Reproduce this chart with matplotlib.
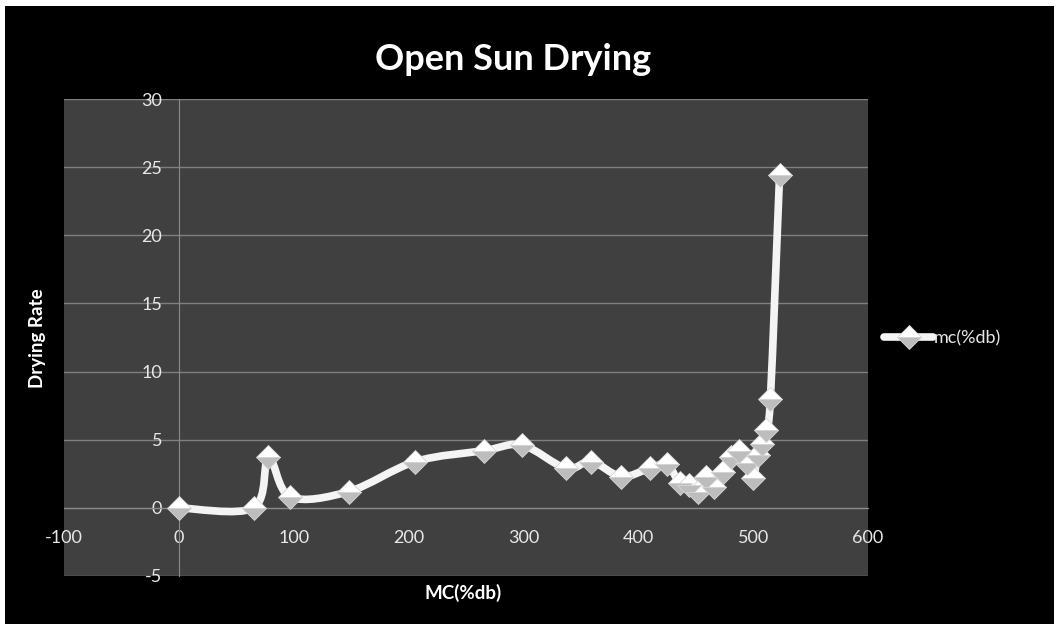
import numpy as np
import matplotlib.pyplot as plt
from matplotlib.path import Path
from matplotlib.patches import PathPatch, Rectangle
from matplotlib.lines import Line2D

# moisture content (%db) and drying rate readings
mc = [0, 65, 78, 97, 148, 206, 266, 299, 337, 359, 385, 410, 425, 436,
      444, 452, 459, 466, 474, 481, 488, 495, 500, 504, 508, 511, 515, 523]
rate = [0, 0, 3.7, 0.8, 1.2, 3.4, 4.2, 4.6, 2.9, 3.4, 2.3, 2.9, 3.2, 1.8,
        1.7, 1.2, 2.3, 1.5, 2.6, 3.7, 4.2, 3.3, 2.2, 3.9, 4.7, 5.7, 8.0, 24.4]

xticks = [-100, 0, 100, 200, 300, 400, 500, 600]
yticks = [-5, 0, 5, 10, 15, 20, 25, 30]

plt.rcParams['font.family'] = ['Lato', 'DejaVu Sans']
plt.rcParams['axes.unicode_minus'] = False

fig = plt.figure(figsize=(10.57, 6.29), dpi=100, facecolor='white')
fig.patches.append(Rectangle((5 / 1057, 5 / 629), 1 - 8 / 1057, 1 - 11 / 629,
                             transform=fig.transFigure, facecolor='black',
                             edgecolor='none', zorder=-10))

ax = fig.add_axes([64 / 1057, 1 - 576 / 629, 804 / 1057, 477 / 629])
ax.set_facecolor('#404040')
ax.set_xlim(-100, 600)
ax.set_ylim(-5, 30)
ax.set_xticks(xticks)
ax.set_yticks(yticks)

for s in ['top', 'right']:
    ax.spines[s].set_visible(False)
ax.spines['left'].set_position(('data', 0))
ax.spines['bottom'].set_position(('data', 0))
ax.spines['left'].set_color('#8a8a8a')
ax.spines['bottom'].set_color('#8a8a8a')
ax.spines['left'].set_linewidth(0.8)
ax.spines['bottom'].set_linewidth(0.8)
ax.yaxis.grid(True, color='#7f7f7f', linewidth=1.0)
ax.set_axisbelow(True)
ax.tick_params(axis='both', length=0, colors='#e8e8e8', labelsize=13)
ax.tick_params(axis='y', pad=12)
ax.tick_params(axis='x', pad=16)

# smoothed line through the points (catmull-rom as cubic beziers)
pts = np.column_stack([mc, rate]).astype(float)
n = len(pts)
verts = [pts[0]]
codes = [Path.MOVETO]
for i in range(n - 1):
    p0 = pts[max(i - 1, 0)]
    p1 = pts[i]
    p2 = pts[i + 1]
    p3 = pts[min(i + 2, n - 1)]
    verts += [p1 + (p2 - p0) / 6, p2 - (p3 - p1) / 6, p2]
    codes += [Path.CURVE4] * 3
ax.add_patch(PathPatch(Path(verts, codes), facecolor='none', edgecolor='#f4f4f4',
                       linewidth=5.5, capstyle='round', joinstyle='round', zorder=3))

mk = dict(marker='D', markersize=12.5, fillstyle='top', markerfacecolor='white',
          markerfacecoloralt='#bdbdbd', markeredgecolor='#d6d6d6', markeredgewidth=0.6)
ax.plot(mc, rate, linestyle='none', zorder=4, **mk)

handle = Line2D([], [], color='#f4f4f4', linewidth=5.5, solid_capstyle='round', **mk)
leg = fig.legend([handle], ['mc(%db)'], loc='center left',
                 bbox_to_anchor=(868 / 1057, 1 - 338 / 629), frameon=False,
                 fontsize=13, handlelength=2.7, handletextpad=0.05, labelcolor='#e8e8e8')

fig.text(513 / 1057, 1 - 60 / 629, 'Open Sun Drying', color='white', fontsize=26,
         fontweight='bold', ha='center', va='center')
fig.text(38 / 1057, 1 - 338 / 629, 'Drying Rate', color='white', fontsize=13.5,
         fontweight='bold', ha='center', va='center', rotation=90)
fig.text(463 / 1057, 1 - 593 / 629, 'MC(%db)', color='white', fontsize=13.5,
         fontweight='bold', ha='center', va='center')

fig.savefig('out.png', dpi=100, facecolor=fig.get_facecolor())
